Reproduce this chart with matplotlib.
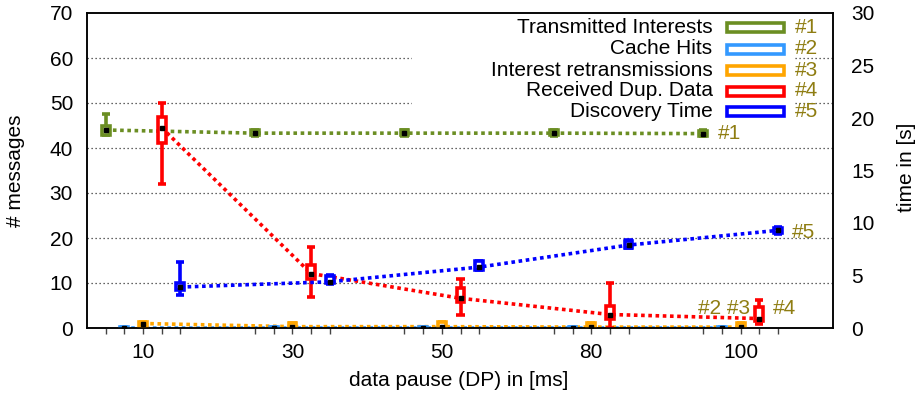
import matplotlib
matplotlib.use("Agg")
import matplotlib.pyplot as plt
from matplotlib.patches import Rectangle
import numpy as np

plt.rcParams['font.family'] = ['Liberation Sans', 'DejaVu Sans']

# ---------------- data ----------------
categories = ['10', '30', '50', '80', '100']

labels = ['Transmitted Interests', 'Cache Hits', 'Interest retransmissions',
          'Received Dup. Data', 'Discovery Time']
tags = ['#1', '#2', '#3', '#4', '#5']
colors = ['#6b8e23', '#3399ff', '#ffa500', '#ff0000', '#0000ff']

# Transmitted Interests (# messages)
tx_med = [44.0, 43.3, 43.3, 43.3, 43.2]
tx_q1 = [43.0, 42.8, 42.8, 42.8, 42.7]
tx_q3 = [45.0, 43.9, 43.9, 43.9, 43.8]
tx_lo = [42.8, 42.7, 42.7, 42.7, 42.6]
tx_hi = [47.6, 44.0, 44.0, 44.0, 43.9]

# Cache Hits (# messages)
ch_med = [0.0, 0.0, 0.0, 0.0, 0.0]
ch_q1 = [0.0, 0.0, 0.0, 0.0, 0.0]
ch_q3 = [0.3, 0.3, 0.3, 0.3, 0.3]
ch_lo = [0.0, 0.0, 0.0, 0.0, 0.0]
ch_hi = [0.3, 0.3, 0.3, 0.3, 0.3]

# Interest retransmissions (# messages)
rt_med = [1.0, 0.3, 0.3, 0.2, 0.2]
rt_q1 = [0.4, 0.1, 0.1, 0.1, 0.1]
rt_q3 = [1.3, 1.2, 1.3, 1.2, 1.2]
rt_lo = [0.4, 0.1, 0.1, 0.1, 0.1]
rt_hi = [1.3, 1.2, 1.3, 1.2, 1.2]

# Received Dup. Data (# messages)
dd_med = [44.5, 12.1, 6.6, 3.0, 2.1]
dd_q1 = [41.1, 11.0, 5.8, 1.9, 1.5]
dd_q3 = [46.9, 14.1, 8.9, 5.0, 4.6]
dd_lo = [31.9, 7.0, 2.9, 0.0, 0.9]
dd_hi = [50.0, 18.1, 11.0, 10.1, 6.3]

# Discovery Time (time in s, right axis)
dt_med = [3.9, 4.4, 5.8, 7.9, 9.3]
dt_q1 = [3.6, 4.25, 5.55, 7.65, 9.05]
dt_q3 = [4.3, 5.0, 6.35, 8.3, 9.55]
dt_lo = [3.1, 4.2, 5.5, 7.6, 9.0]
dt_hi = [6.3, 5.05, 6.4, 8.35, 9.6]

series = [
    (tx_med, tx_q1, tx_q3, tx_lo, tx_hi),
    (ch_med, ch_q1, ch_q3, ch_lo, ch_hi),
    (rt_med, rt_q1, rt_q3, rt_lo, rt_hi),
    (dd_med, dd_q1, dd_q3, dd_lo, dd_hi),
    (dt_med, dt_q1, dt_q3, dt_lo, dt_hi),
]
offsets = [-0.25, -0.125, 0.0, 0.125, 0.25]

# ---------------- figure ----------------
W, H = 917, 397
fig = plt.figure(figsize=(W / 100, H / 100), dpi=100)
L, R, T, B = 87, 833, 13, 328
ax = fig.add_axes([L / W, (H - B) / H, (R - L) / W, (B - T) / H])
ax2 = ax.twinx()

FS = 15
centers = np.arange(len(categories))
ax.set_xlim(-0.375, 4.618)
ax.set_ylim(0, 70)
ax2.set_ylim(0, 30)

bw = 0.052
cw = 0.055
LW = 2.6
dot = (0, (1, 1.0))

for i, (vals, c) in enumerate(zip(series, colors)):
    med, q1, q3, lo, hi = [np.array(v) for v in vals]
    a = ax2 if i == 4 else ax
    pos = centers + offsets[i]
    a.plot(pos, med, color=c, lw=LW, ls=dot, dash_capstyle='butt', zorder=2)
    a.vlines(pos, lo, q1, color=c, lw=LW, zorder=3)
    a.vlines(pos, q3, hi, color=c, lw=LW, zorder=3)
    a.hlines(hi, pos - cw / 2, pos + cw / 2, color=c, lw=LW, zorder=3)
    a.hlines(lo, pos - cw / 2, pos + cw / 2, color=c, lw=LW, zorder=3)
    a.bar(pos, q3 - q1, bottom=q1, width=bw, facecolor='white', edgecolor=c,
          lw=LW, zorder=3)
    a.plot(pos, med, ls='none', marker='s', ms=3.4, color='k', zorder=4)

# grid
ax.set_yticks(np.arange(0, 71, 10))
ax2.set_yticks(np.arange(0, 31, 5))
for v in range(10, 70, 10):
    ax.axhline(v, color='#333333', lw=0.9, ls=(0, (1, 2.2)), zorder=0.5)

# x ticks: labels at centers, ticks at every series position
ax.set_xticks(centers)
ax.set_xticklabels(categories)
minor = [c + o for c in centers for o in offsets if o != 0]
ax.set_xticks(minor, minor=True)
ax.tick_params(axis='x', which='both', direction='out', length=4.5, width=1,
               color='#444444', labelsize=FS, pad=6)
ax.tick_params(axis='y', length=0, labelsize=FS, pad=10)
ax2.tick_params(axis='y', length=0, labelsize=FS, pad=13)
ax2.tick_params(axis='x', which='both', length=0)
for a in (ax, ax2):
    for s in a.spines.values():
        s.set_linewidth(1.1)
        s.set_color('black')

# axis labels
fig.text(15.5 / W, 1 - 171 / H, '# messages', rotation=90, ha='center',
         va='center', fontsize=FS)
fig.text(907 / W, 1 - 167 / H, 'time in [s]', rotation=90, ha='center',
         va='center', fontsize=FS)
fig.text(459 / W, 1 - 380 / H, 'data pause (DP) in [ms]', ha='center',
         va='center', fontsize=FS)


def axc(px, py):
    return (px - L) / (R - L), (B - py) / (B - T)


# key background (opaque)
x0, y0 = axc(412, 122)
x1, y1 = axc(795, 14)
ax.add_patch(Rectangle((x0, y0), x1 - x0, y1 - y0, transform=ax.transAxes,
                       facecolor='white', edgecolor='none', zorder=1))

tagc = '#8f7d12'
rows = [27.8, 49.0, 70.3, 91.0, 111.8]
for lab, tag, c, ry in zip(labels, tags, colors, rows):
    tx, ty = axc(712.5, ry)
    ax.text(tx, ty, lab, transform=ax.transAxes, ha='right', va='center',
            fontsize=FS, zorder=6)
    rx0, ry0 = axc(727, ry + 4.5)
    rx1, ry1 = axc(784, ry - 4.5)
    ax.add_patch(Rectangle((rx0, ry0), rx1 - rx0, ry1 - ry0,
                           transform=ax.transAxes, facecolor='white',
                           edgecolor=c, lw=LW, zorder=6))
    gx, gy = axc(795, ry)
    ax.text(gx, gy, tag, transform=ax.transAxes, ha='left', va='center',
            fontsize=FS, color=tagc, zorder=6)

# in-plot tags
ax.text(3.85, 43.3, '#1', ha='left', va='center', fontsize=FS, color=tagc)
ax.text(3.715, 4.4, '#2 #3', ha='left', va='center', fontsize=FS, color=tagc)
ax.text(4.217, 4.4, '#4', ha='left', va='center', fontsize=FS, color=tagc)
ax2.text(4.34, 9.1, '#5', ha='left', va='center', fontsize=FS, color=tagc)

fig.savefig('out.png', dpi=100)
